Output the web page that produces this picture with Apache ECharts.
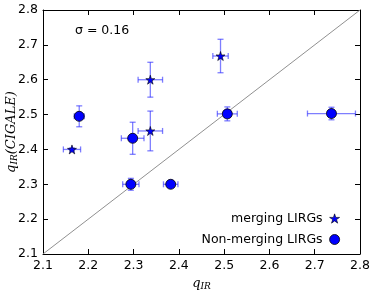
<!DOCTYPE html>
<html><head><meta charset="utf-8">
<script src="https://cdn.jsdelivr.net/npm/echarts@6/dist/echarts.min.js"></script>
<style>html,body{margin:0;padding:0;background:#fff}#c{width:373px;height:291px}</style>
</head><body><div id="c"></div>
<script>
// merging LIRGs: [x, y, xerr, yerr]
const mergingX = [2.164, 2.337, 2.337, 2.492];
const mergingY = [2.400, 2.600, 2.453, 2.668];
const mergingXerr = [0.019, 0.027, 0.027, 0.017];
const mergingYerr = [0.004, 0.050, 0.057, 0.048];
// Non-merging LIRGs
const nonX = [2.180, 2.298, 2.294, 2.382, 2.507, 2.737];
const nonY = [2.495, 2.432, 2.300, 2.300, 2.502, 2.503];
const nonXerr = [0.011, 0.025, 0.018, 0.016, 0.022, 0.053];
const nonYerr = [0.030, 0.046, 0.017, 0.004, 0.020, 0.018];
const xTicks = [2.1, 2.2, 2.3, 2.4, 2.5, 2.6, 2.7, 2.8];
const yTicks = [2.1, 2.2, 2.3, 2.4, 2.5, 2.6, 2.7, 2.8];
const sigmaText = 'σ = 0.16';

const starPath = 'path://M50,0 L61.8,35.5 L100,35.5 L69.1,57.4 L80.9,93.1 L50,71.2 L19.1,93.1 L30.9,57.4 L0,35.5 L38.2,35.5 Z';

function zip(xs, ys, xe, ye) { return xs.map((x, i) => [x, ys[i], xe[i], ye[i]]); }
const mergingData = zip(mergingX, mergingY, mergingXerr, mergingYerr);
const nonData = zip(nonX, nonY, nonXerr, nonYerr);

const errColor = 'rgba(40,40,255,0.6)';
function errRender(params, api) {
  const x = api.value(0), y = api.value(1), xe = api.value(2), ye = api.value(3);
  const l = api.coord([x - xe, y]), r = api.coord([x + xe, y]);
  const t = api.coord([x, y + ye]), b = api.coord([x, y - ye]);
  const cap = 3;
  const st = { stroke: errColor, lineWidth: 1.3 };
  const line = (x1, y1, x2, y2) => ({ type: 'line', shape: { x1, y1, x2, y2 }, style: st });
  return {
    type: 'group',
    children: [
      line(l[0], l[1], r[0], r[1]),
      line(l[0], l[1] - cap, l[0], l[1] + cap),
      line(r[0], r[1] - cap, r[0], r[1] + cap),
      line(t[0], t[1], b[0], b[1]),
      line(t[0] - cap, t[1], t[0] + cap, t[1]),
      line(b[0] - cap, b[1], b[0] + cap, b[1])
    ]
  };
}

const chart = echarts.init(document.getElementById('c'), null, { renderer: 'canvas' });
const axisFont = { fontFamily: 'DejaVu Sans', fontSize: 12.5, color: '#000' };
const tick = { show: true, inside: true, length: 5, lineStyle: { color: '#000', width: 1 } };
const mathRich = {
  q: { fontFamily: 'DejaVu Serif', fontStyle: 'italic', fontSize: 13, fill: '#000', color: '#000' },
  s: { fontFamily: 'DejaVu Serif', fontStyle: 'italic', fontSize: 9, fill: '#000', color: '#000', verticalAlign: 'bottom', padding: [6, 0, 0, 0] },
  n: { fontFamily: 'DejaVu Serif', fontStyle: 'italic', fontSize: 13, fill: '#000', color: '#000' }
};
chart.setOption({
  animation: false,
  grid: { left: 43, right: 13, top: 10, bottom: 37, containLabel: false, outerBoundsMode: 'none' },
  xAxis: [{
    type: 'value', min: 2.1, max: 2.8, interval: 0.1, position: 'bottom',
    name: '{q|q}{s|IR}', nameLocation: 'middle', nameGap: 20,
    nameTextStyle: { rich: mathRich },
    axisLine: { show: true, lineStyle: { color: '#000', width: 1 } },
    axisTick: tick, splitLine: { show: false },
    axisLabel: Object.assign({ margin: 5, formatter: v => xTicks.find(t => Math.abs(t - v) < 1e-6)?.toFixed(1) ?? '' }, axisFont)
  }, {
    type: 'value', min: 2.1, max: 2.8, interval: 0.1, position: 'top',
    axisLine: { show: true, lineStyle: { color: '#000', width: 1 } },
    axisTick: tick, axisLabel: { show: false }, splitLine: { show: false }
  }],
  yAxis: [{
    type: 'value', min: 2.1, max: 2.8, interval: 0.1, position: 'left',
    axisLine: { show: true, lineStyle: { color: '#000', width: 1 } },
    axisTick: tick, splitLine: { show: false },
    axisLabel: Object.assign({ margin: 5, formatter: v => yTicks.find(t => Math.abs(t - v) < 1e-6)?.toFixed(1) ?? '' }, axisFont)
  }, {
    type: 'value', min: 2.1, max: 2.8, interval: 0.1, position: 'right',
    axisLine: { show: true, lineStyle: { color: '#000', width: 1 } },
    axisTick: tick, axisLabel: { show: false }, splitLine: { show: false }
  }],
  legend: {
    orient: 'vertical', right: 28, bottom: 40, align: 'right',
    itemWidth: 10, itemHeight: 10, itemGap: 8,
    textStyle: { fontFamily: 'DejaVu Sans', fontSize: 12.5, color: '#000', padding: [0, 2, 0, 0] },
    data: [
      { name: 'merging LIRGs', icon: starPath, itemStyle: { color: '#0000ff', borderColor: '#000', borderWidth: 0.6 } },
      { name: 'Non-merging LIRGs', icon: 'circle', itemStyle: { color: '#0000ff', borderColor: '#000', borderWidth: 0.8 } }
    ]
  },
  graphic: [{
    type: 'text', left: 75, top: 24,
    style: { text: sigmaText, font: '12.5px "DejaVu Sans"', fill: '#000' }
  }, {
    type: 'text', x: 12, y: 132, rotation: Math.PI / 2,
    style: { text: '{q|q}{s|IR}{n|(CIGALE)}', rich: mathRich, align: 'center', verticalAlign: 'middle', fill: '#000' }
  }],
  series: [
    {
      type: 'line', data: [[2.1, 2.1], [2.8, 2.8]], symbol: 'none', silent: true,
      lineStyle: { color: '#909090', width: 1 }, z: 1
    },
    { type: 'custom', data: mergingData, renderItem: errRender, z: 2, silent: true, encode: { x: 0, y: 1 } },
    { type: 'custom', data: nonData, renderItem: errRender, z: 2, silent: true, encode: { x: 0, y: 1 } },
    {
      name: 'merging LIRGs', type: 'scatter', data: mergingData.map(d => [d[0], d[1]]),
      symbol: starPath, symbolSize: 9, z: 3,
      itemStyle: { color: '#0000ff', borderColor: '#000', borderWidth: 0.6, opacity: 1 }
    },
    {
      name: 'Non-merging LIRGs', type: 'scatter', data: nonData.map(d => [d[0], d[1]]),
      symbol: 'circle', symbolSize: 10, z: 3,
      itemStyle: { color: '#0000ff', borderColor: '#000', borderWidth: 0.8, opacity: 1 }
    }
  ]
});
</script></body></html>
